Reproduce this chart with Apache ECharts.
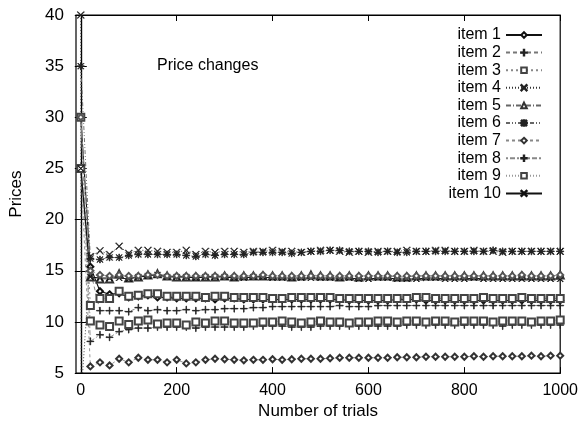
<!DOCTYPE html>
<html>
<head>
<meta charset="utf-8">
<script src="https://cdn.jsdelivr.net/npm/echarts@6/dist/echarts.min.js"></script>
<style>
html,body{margin:0;padding:0;background:#fff;}
#chart{width:581px;height:425px;}
</style>
</head>
<body>
<div id="chart"></div>
<script>
const trials = [0,20,40,60,80,100,120,140,160,180,
  200,220,240,260,280,300,320,340,360,380,
  400,420,440,460,480,500,520,540,560,580,
  600,620,640,660,680,700,720,740,760,780,
  800,820,840,860,880,900,920,940,960,980,
  1000];
const xTicks = [0,200,400,600,800,1000];
const yTicks = [5,10,15,20,25,30,35,40];
const seriesNames = ['item 1','item 2','item 3','item 4','item 5','item 6','item 7','item 8','item 9','item 10'];

const item1 = [30,15.4,13.0,12.7,12.8,12.4,12.5,12.6,12.4,12.4,
  12.3,12.3,12.3,12.3,12.2,12.3,12.3,12.2,12.2,12.2,
  12.2,12.2,12.2,12.2,12.2,12.2,12.2,12.2,12.1,12.1,
  12.1,12.1,12.1,12.2,12.2,12.2,12.1,12.1,12.1,12.1,
  12.1,12.1,12.1,12.1,12.1,12.1,12.1,12.1,12.1,12.1,
  12.1];
const item2 = [25,15.0,11.1,11.1,11.1,11.0,11.4,11.1,11.2,11.1,
  11.1,11.2,11.1,11.2,11.2,11.3,11.3,11.3,11.4,11.4,
  11.5,11.5,11.5,11.5,11.5,11.5,11.5,11.6,11.5,11.5,
  11.5,11.6,11.6,11.6,11.6,11.6,11.6,11.6,11.6,11.6,
  11.6,11.6,11.6,11.6,11.6,11.6,11.6,11.6,11.6,11.6,
  11.6];
const item3 = [30,11.6,12.3,12.3,13.0,12.5,12.6,12.75,12.75,12.5,
  12.5,12.5,12.5,12.4,12.5,12.5,12.4,12.4,12.4,12.4,
  12.3,12.3,12.4,12.4,12.4,12.4,12.4,12.3,12.3,12.3,
  12.3,12.3,12.3,12.3,12.3,12.4,12.4,12.3,12.3,12.3,
  12.3,12.3,12.4,12.3,12.3,12.3,12.4,12.3,12.3,12.3,
  12.3];
const item4 = [40,16.4,16.95,16.6,17.4,16.7,17.0,17.0,16.9,16.8,
  16.8,17.0,16.6,16.9,16.8,16.9,16.9,16.8,16.9,16.9,
  17.0,16.9,16.9,16.8,16.9,17.0,17.0,16.9,16.8,16.9,
  16.8,16.9,16.9,16.9,17.0,16.9,16.9,17.0,17.0,16.9,
  16.9,17.0,16.9,16.9,16.8,16.9,16.9,16.9,16.9,16.9,
  16.9];
const item4Dip = [1, 3];
const item5 = [25,14.4,14.2,14.2,14.7,14.3,14.4,14.6,14.7,14.5,
  14.4,14.4,14.4,14.4,14.4,14.5,14.4,14.5,14.5,14.5,
  14.5,14.5,14.4,14.5,14.6,14.5,14.5,14.4,14.5,14.4,
  14.5,14.5,14.5,14.4,14.4,14.5,14.5,14.5,14.5,14.5,
  14.5,14.5,14.5,14.5,14.5,14.5,14.5,14.5,14.5,14.5,
  14.6];
const item6 = [35,16.2,16.1,16.3,16.3,16.5,16.6,16.6,16.6,16.6,
  16.6,16.5,16.4,16.6,16.5,16.6,16.6,16.6,16.8,16.8,
  16.8,16.8,16.7,16.8,16.9,16.9,17.0,17.0,16.9,16.9,
  16.9,16.8,16.9,16.8,16.8,16.9,16.9,16.9,16.9,16.9,
  16.9,16.9,16.9,17.0,16.9,16.9,16.9,16.9,16.9,16.9,
  16.9];
const item7 = [25,5.65,6.05,5.75,6.4,6.05,6.5,6.3,6.3,6.05,
  6.3,5.95,6.05,6.3,6.4,6.35,6.3,6.25,6.3,6.3,
  6.35,6.3,6.35,6.4,6.4,6.4,6.45,6.5,6.5,6.5,
  6.5,6.5,6.5,6.55,6.55,6.55,6.6,6.6,6.6,6.6,
  6.6,6.65,6.6,6.65,6.65,6.65,6.65,6.7,6.65,6.7,
  6.7];
const item8 = [30,8.1,8.75,8.5,9.05,9.25,9.4,9.4,9.5,9.5,
  9.5,9.5,9.4,9.5,9.5,9.5,9.5,9.5,9.6,9.6,
  9.6,9.6,9.5,9.5,9.5,9.6,9.6,9.6,9.6,9.6,
  9.6,9.6,9.6,9.6,9.7,9.7,9.7,9.7,9.7,9.7,
  9.7,9.7,9.7,9.7,9.6,9.7,9.7,9.7,9.7,9.7,
  9.7];
const item9 = [25,10.1,9.7,9.55,10.1,9.75,10.1,10.2,9.8,9.9,
  9.9,9.7,10.0,9.9,10.1,10.1,9.9,9.9,9.9,10.0,
  10.0,10.1,10.0,9.9,10.0,10.1,10.0,10.0,9.9,10.0,
  10.0,10.1,10.1,10.0,10.1,10.1,10.0,10.1,10.1,10.0,
  10.1,10.1,10.1,10.0,10.1,10.1,10.1,10.0,10.1,10.1,
  10.2];
const item10 = [25,14.4,14.3,14.3,14.3,14.2,14.4,14.5,14.6,14.4,
  14.4,14.4,14.3,14.4,14.4,14.4,14.3,14.3,14.4,14.4,
  14.3,14.3,14.3,14.3,14.3,14.3,14.3,14.3,14.3,14.2,
  14.2,14.3,14.3,14.2,14.2,14.2,14.3,14.3,14.2,14.2,
  14.2,14.3,14.2,14.2,14.2,14.2,14.2,14.2,14.2,14.2,
  14.2];
const extraDiamond = [30,15.0,14.6,14.5,14.6,14.5,14.5,14.6,14.6,14.5,
  14.5,14.5,14.5,14.5,14.5,14.5,14.5,14.5,14.5,14.6,
  14.5,14.5,14.5,14.5,14.5,14.5,14.5,14.5,14.5,14.5,
  14.5,14.5,14.5,14.5,14.5,14.5,14.5,14.5,14.5,14.5,
  14.5,14.5,14.5,14.5,14.5,14.5,14.6,14.5,14.5,14.5,
  14.6];

const PLUS = 'path://M0,4.6H10V5.4H0Z M4.6,0H5.4V10H4.6Z';
const CROSS = 'path://M0.6,0L5,4.4L9.4,0L10,0.6L5.6,5L10,9.4L9.4,10L5,5.6L0.6,10L0,9.4L4.4,5L0,0.6Z';
const STAR = 'path://M0,4.55H10V5.45H0Z M4.55,0H5.45V10H4.55Z M1.2,0.6L5,4.4L8.8,0.6L9.4,1.2L5.6,5L9.4,8.8L8.8,9.4L5,5.6L1.2,9.4L0.6,8.8L4.4,5L0.6,1.2Z';

function pairs(vals) { return trials.map((t, i) => [t, vals[i]]); }

function mk(name, data, symbol, size, dash, lineColor, markColor, width) {
  return {
    name: name, type: 'line', data: data,
    symbol: symbol, symbolSize: size,
    showSymbol: true, animation: false, clip: true,
    lineStyle: { color: lineColor, width: width || 0.9, type: dash },
    itemStyle: { color: markColor, borderColor: markColor, borderWidth: 0.8 },
    emphasis: { disabled: true }
  };
}

const item4Data = pairs(item4);
item4Data.splice(1, 0, item4Dip);

const series = [
  mk('item 1', pairs(item1), 'emptyDiamond', 6, 'solid', '#111', '#111', 1.1),
  mk('item 2', pairs(item2), PLUS, 7, [4,3], '#777', '#222'),
  mk('item 3', pairs(item3), 'emptyRect', 7, [2,3], '#888', '#444'),
  mk('item 4', item4Data, CROSS, 7, [1,2], '#333', '#222'),
  mk('item 5', pairs(item5), 'emptyTriangle', 7, [5,2,1,2], '#666', '#333'),
  mk('item 6', pairs(item6), STAR, 7, [4,2,1,2,1,2], '#666', '#222'),
  mk('item 7', pairs(item7), 'emptyDiamond', 6, [3,3], '#888', '#333'),
  mk('item 8', pairs(item8), PLUS, 7, [2,2,5,2], '#888', '#222'),
  mk('item 9', pairs(item9), 'emptyRect', 7, [1,2], '#999', '#444'),
  mk('item 10', pairs(item10), CROSS, 6, 'solid', '#111', '#111', 1.1),
  mk('', pairs(extraDiamond), 'emptyDiamond', 6, [3,3], '#999', '#555')
];

const FONT = 'Liberation Sans';
const chart = echarts.init(document.getElementById('chart'), null, { renderer: 'canvas' });
chart.setOption({
  backgroundColor: '#fff',
  animation: false,
  textStyle: { fontFamily: FONT },
  grid: { left: 70, right: 19, top: 15, bottom: 44, show: true, borderColor: '#000', borderWidth: 1.2, containLabel: false },
  legend: {
    data: seriesNames,
    orient: 'vertical', right: 33, top: 22, align: 'right',
    itemWidth: 36, itemHeight: 7, itemGap: 1.6,
    textStyle: { fontFamily: FONT, fontSize: 16, color: '#000', lineHeight: 14 },
    selectedMode: false
  },
  graphic: [{ type: 'text', left: 157, top: 58, style: { text: 'Price changes', font: '16px "Liberation Sans"', fill: '#000' } }],
  xAxis: [{
    type: 'value', min: -10, max: 1000,
    name: 'Number of trials', nameLocation: 'middle', nameGap: 24,
    nameTextStyle: { fontFamily: FONT, fontSize: 17, color: '#000' },
    axisLine: { show: true, lineStyle: { color: '#000', width: 1.2 } },
    axisTick: { show: true, inside: true, length: 6, customValues: xTicks, lineStyle: { color: '#000' } },
    axisLabel: { customValues: xTicks, formatter: v => String(v), fontFamily: FONT, fontSize: 16, color: '#000', margin: 9 },
    splitLine: { show: false }
  }, {
    type: 'value', min: -10, max: 1000, position: 'top',
    axisLine: { show: true, lineStyle: { color: '#000', width: 1.2 } },
    axisTick: { show: true, inside: true, length: 6, customValues: xTicks, lineStyle: { color: '#000' } },
    axisLabel: { show: false }, splitLine: { show: false }
  }],
  yAxis: [{
    type: 'value', min: 5, max: 40, interval: 5,
    name: 'Prices', nameLocation: 'middle', nameGap: 51, nameRotate: 90,
    nameTextStyle: { fontFamily: FONT, fontSize: 17, color: '#000' },
    axisLine: { show: true, lineStyle: { color: '#000', width: 1.2 } },
    axisTick: { show: true, inside: true, length: 6, lineStyle: { color: '#000' } },
    axisLabel: { fontFamily: FONT, fontSize: 17, color: '#000', margin: 12 },
    splitLine: { show: false }
  }, {
    type: 'value', min: 5, max: 40, interval: 5, position: 'right',
    axisLine: { show: true, lineStyle: { color: '#000', width: 1.2 } },
    axisTick: { show: true, inside: true, length: 6, lineStyle: { color: '#000' } },
    axisLabel: { show: false }, splitLine: { show: false }
  }],
  series: series
});
</script>
</body>
</html>
